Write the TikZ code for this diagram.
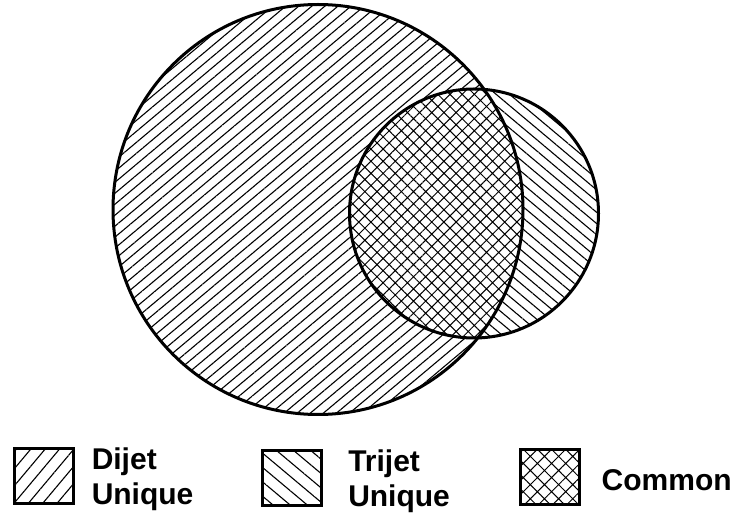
\documentclass[tikz,border=0pt]{standalone}
\usepackage{fontspec}
\setmainfont{Liberation Sans}
\usetikzlibrary{patterns.meta,positioning}

\begin{document}
\begin{tikzpicture}[
    x=1pt, y=1pt,
    outline/.style={draw=black, line width=3pt},
    dijet/.style={pattern={Lines[angle=40, distance=8.4pt, line width=1.1pt]}},
    trijet/.style={pattern={Lines[angle=-40, distance=8.6pt, line width=1.1pt]}},
    common/.style={pattern={Hatch[angle=45, distance=8.6pt, line width=1pt]}},
    legbox/.style={rectangle, draw=black, line width=3pt, minimum width=59pt, minimum height=55pt, inner sep=0pt},
    dijetkey/.style={pattern={Lines[angle=50, distance=11pt, line width=1.1pt]}},
    trijetkey/.style={pattern={Lines[angle=-40, distance=11pt, line width=1.1pt]}},
    commonkey/.style={pattern={Hatch[angle=45, distance=10pt, line width=1pt]}},
    legtext/.style={inner sep=0pt, align=left, anchor=west, yshift=-3pt, font=\fontsize{30}{35}\selectfont\bfseries},
]
\useasboundingbox (0,0) rectangle (740,520);
% the two samples
\coordinate (dijetc) at (318,310.5);
\coordinate (trijetc) at (474,306.5);
\fill[dijet] (dijetc) circle[radius=205];
\fill[white] (trijetc) circle[radius=124.5];
\fill[trijet] (trijetc) circle[radius=124.5];
\begin{scope}
  \clip (dijetc) circle[radius=205];
  \fill[white] (trijetc) circle[radius=124.5];
  \fill[common] (trijetc) circle[radius=124.5];
\end{scope}
\draw[outline] (dijetc) circle[radius=205];
\draw[outline] (trijetc) circle[radius=124.5];
% legend
\node[legbox, dijetkey] (dijetbox) at (43.5,43.5) {};
\node[legbox, trijetkey] (trijetbox) at (292,42) {};
\node[legbox, commonkey] (commonbox) at (549.5,42.5) {};
\node[legtext, right=18pt of dijetbox] (dijetlabel) {Dijet\\Unique};
\node[legtext, right=26pt of trijetbox] (trijetlabel) {Trijet\\Unique};
\node[legtext, right=22pt of commonbox] (commonlabel) {Common};
\end{tikzpicture}
\end{document}
